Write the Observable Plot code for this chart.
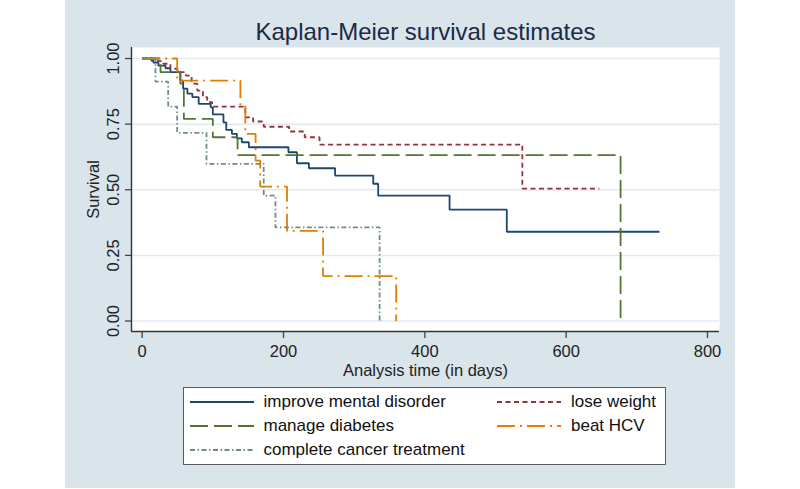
<!DOCTYPE html>
<html>
<head>
<meta charset="utf-8">
<script src="https://cdn.jsdelivr.net/npm/d3@7"></script>
<script src="https://cdn.jsdelivr.net/npm/@observablehq/plot@0.6"></script>
<style>
  body { margin: 0; background: #fff; font-family: "Liberation Sans", Arial, sans-serif; }
  #wrap { position: relative; width: 800px; height: 489px; overflow: hidden; background: #fff; }
  #bg { position: absolute; left: 65px; top: 0; width: 670px; height: 488px; background: #d9e4eb; }
  #chart { position: absolute; left: 0; top: 0; width: 800px; height: 489px; }
  #legend { position: absolute; left: 183px; top: 387px; width: 483px; height: 78px; background: #fff;
            border: 1.5px solid #5a5a5a; box-sizing: border-box; }
  .item { position: absolute; height: 24px; display: flex; align-items: center; font-size: 17px;
          color: #111; white-space: nowrap; }
  .item svg { display: block; margin-right: 10px; }
</style>
</head>
<body>
<div id="wrap">
  <div id="bg"></div>
  <div id="chart"></div>
  <div id="legend"></div>
</div>
<script>
// ---- data (analysis time in days, survival probability) ----
const titleText = "Kaplan-Meier survival estimates";
const xLabel = "Analysis time (in days)";
const yLabel = "Survival";
const xTicks = [0, 200, 400, 600, 800];
const yTicks = [0, 0.25, 0.5, 0.75, 1];

const seriesNames = ["improve mental disorder", "lose weight", "manage diabetes", "beat HCV", "complete cancer treatment"];
const seriesColors = ["#1a476f", "#90353b", "#55752f", "#e37e00", "#6e8e84"];
const seriesDash = ["none", "5,3.5", "18,6", "18,5,2,5", "5,2.5,1.5,2.5"];

const mentalTime = [0, 13, 16, 23, 33, 40, 54, 58, 64, 71, 80, 97, 100, 115, 119, 127, 134, 141, 151, 207, 219, 236, 273, 327, 334, 435, 516, 732];
const mentalSurv = [1, .992, .984, .973, .963, .948, .916, .885, .866, .853, .827, .814, .787, .757, .728, .713, .696, .681, .662, .643, .601, .582, .554, .523, .478, .424, .340, .340];

const weightTime = [0, 22, 30, 40, 50, 62, 70, 78, 86, 92, 99, 146, 157, 172, 208, 230, 251, 538, 647];
const weightSurv = [1, .990, .980, .961, .948, .935, .904, .878, .853, .834, .817, .776, .760, .740, .722, .700, .672, .504, .504];

const diabetesTime = [0, 26, 54, 59, 100, 135, 677];
const diabetesSurv = [1, .948, .904, .770, .700, .632, 0];

const hcvTime = [0, 49.5, 139, 146, 160.5, 167, 205, 256, 359.5];
const hcvSurv = [1, .916, .818, .713, .611, .512, .343, .171, 0];

const cancerTime = [0, 18.8, 36.8, 49.5, 91, 172, 188.6, 336];
const cancerSurv = [1, .912, .817, .717, .599, .478, .357, 0];

// ---- build table ----
const seriesTimes = [mentalTime, weightTime, diabetesTime, hcvTime, cancerTime];
const seriesSurvs = [mentalSurv, weightSurv, diabetesSurv, hcvSurv, cancerSurv];
const rows = [];
seriesNames.forEach((name, i) => {
  seriesTimes[i].forEach((t, j) => rows.push({group: name, t, s: seriesSurvs[i][j]}));
});

const xDomain = [-15.1, 817];
const yDomain = [-0.040, 1.042];
const font = "'Liberation Sans', Arial, sans-serif";

const lineMarks = seriesNames.map((name, i) =>
  Plot.line(rows.filter(d => d.group === name), {
    x: "t", y: "s", curve: "step-after",
    stroke: seriesColors[i], strokeWidth: 1.8,
    strokeDasharray: seriesDash[i], strokeLinecap: "butt", strokeLinejoin: "miter"
  })
);

const chart = Plot.plot({
  width: 800, height: 489,
  marginLeft: 131, marginRight: 81, marginTop: 47, marginBottom: 158,
  style: {background: "transparent", fontFamily: font, color: "#222", overflow: "visible"},
  x: {domain: xDomain},
  y: {domain: yDomain},
  marks: [
    Plot.frame({fill: "white", stroke: "none"}),
    Plot.gridY(yTicks, {stroke: "#e2eaf0", strokeOpacity: 1, strokeWidth: 1.5}),
    ...lineMarks,
    Plot.ruleX([xDomain[0]], {stroke: "#333", strokeWidth: 1.4}),
    Plot.ruleY([yDomain[0]], {stroke: "#333", strokeWidth: 1.4}),
    Plot.axisX(xTicks, {
      tickSize: 7, tickPadding: 7, fontSize: 16.5, stroke: "#444", strokeWidth: 1.3,
      tickFormat: d3.format("d"),
      label: xLabel, labelAnchor: "center", labelOffset: 44.5, labelArrow: "none"
    }),
    Plot.axisY(yTicks, {
      tickSize: 6, tickPadding: 7, tickRotate: -90, fontSize: 16.5, stroke: "#444", strokeWidth: 1.3,
      tickFormat: d3.format(".2f"),
      label: yLabel, labelAnchor: "center", labelOffset: 44.3, labelArrow: "none"
    }),
    Plot.text([titleText], {
      text: d => d, frameAnchor: "top", lineAnchor: "bottom", dy: -8,
      fontSize: 24, fill: "#1b2a47"
    })
  ]
});
document.getElementById("chart").appendChild(chart);

// ---- legend (HTML) ----
const legendCols = [5.5, 313];
const legendRows = [1.8, 25.5, 49.5];
const legend = document.getElementById("legend");
seriesNames.forEach((name, i) => {
  const col = i % 2, row = Math.floor(i / 2);
  const item = document.createElement("div");
  item.className = "item";
  item.style.left = legendCols[col] + "px";
  item.style.top = legendRows[row] + "px";
  const ns = "http://www.w3.org/2000/svg";
  const svg = document.createElementNS(ns, "svg");
  svg.setAttribute("width", 64);
  svg.setAttribute("height", 6);
  const ln = document.createElementNS(ns, "line");
  ln.setAttribute("x1", 0); ln.setAttribute("x2", 64);
  ln.setAttribute("y1", 3); ln.setAttribute("y2", 3);
  ln.setAttribute("stroke", seriesColors[i]);
  ln.setAttribute("stroke-width", 1.8);
  if (seriesDash[i] !== "none") ln.setAttribute("stroke-dasharray", seriesDash[i]);
  svg.appendChild(ln);
  const span = document.createElement("span");
  span.textContent = name;
  item.appendChild(svg);
  item.appendChild(span);
  legend.appendChild(item);
});
</script>
</body>
</html>
